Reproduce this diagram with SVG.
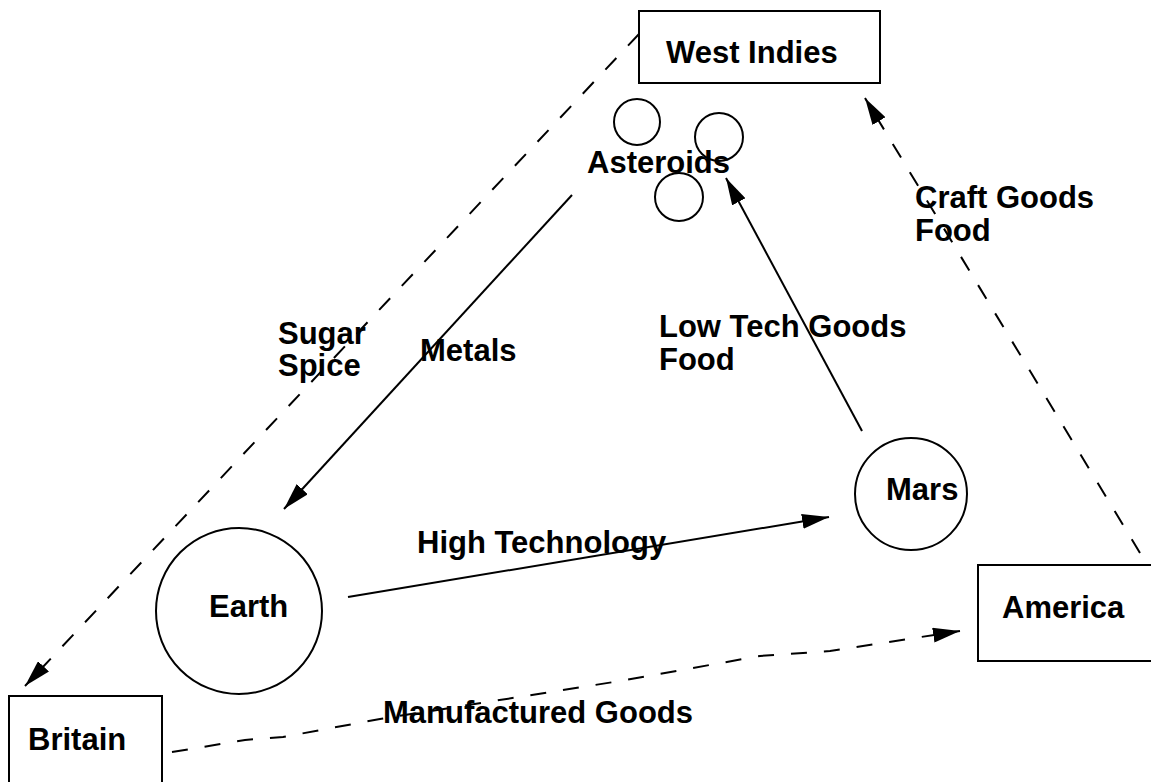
<svg xmlns="http://www.w3.org/2000/svg" width="1151" height="782" viewBox="0 0 1151 782">
<style>
text { font-family: "Liberation Sans", Arial, Helvetica, sans-serif; font-weight: bold; font-size: 31px; fill: #000; }
.shape { fill: #fff; stroke: #000; stroke-width: 2; }
.conn { fill: none; stroke: #000; stroke-width: 2; }
.dash { stroke-dasharray: 16 17; }
</style>
<defs>
<marker id="ah" markerUnits="userSpaceOnUse" viewBox="0 0 27 15" markerWidth="27" markerHeight="15" refX="27" refY="7.5" orient="auto">
<path d="M0,0 L27,7.5 L0,15 z" fill="#000" stroke="none"/>
</marker>
</defs>
<rect width="1151" height="782" fill="#fff"/>
<g id="nodes">
<g id="west-indies">
<rect class="shape" x="639" y="11" width="241" height="72"/>
<text x="666" y="63">West Indies</text>
</g>
<g id="asteroids">
<circle class="shape" cx="637" cy="122" r="23"/>
<circle class="shape" cx="719" cy="137" r="24"/>
<circle class="shape" cx="679" cy="197" r="24"/>
<text x="587" y="173">Asteroids</text>
</g>
<g id="earth">
<circle class="shape" cx="239" cy="611" r="83"/>
<text x="209" y="617">Earth</text>
</g>
<g id="mars">
<circle class="shape" cx="911" cy="494" r="56"/>
<text x="886" y="500">Mars</text>
</g>
<g id="britain">
<rect class="shape" x="9" y="696" width="153" height="100"/>
<text x="28" y="750">Britain</text>
</g>
<g id="america">
<rect class="shape" x="978" y="565" width="180" height="96"/>
<text x="1002" y="618">America</text>
</g>
</g>
<g id="connectors">
<line class="conn" x1="572" y1="195" x2="284" y2="509" marker-end="url(#ah)"/>
<line class="conn" x1="862" y1="431" x2="726" y2="178" marker-end="url(#ah)"/>
<line class="conn" x1="348" y1="597" x2="829" y2="517" marker-end="url(#ah)"/>
<line class="conn dash" x1="639" y1="34" x2="25" y2="686" marker-end="url(#ah)"/>
<line class="conn dash" x1="1140" y1="553" x2="865" y2="98" marker-end="url(#ah)"/>
<polyline class="conn dash" points="172,752 245,740 283,737 380,719 620,681 760,656 830,651 960,631" marker-end="url(#ah)"/>
</g>
<g id="labels">
<text x="278" y="344">Sugar</text>
<text x="278" y="376">Spice</text>
<text x="420" y="361">Metals</text>
<text x="659" y="337">Low Tech Goods</text>
<text x="659" y="370">Food</text>
<text x="915" y="208">Craft Goods</text>
<text x="915" y="241">Food</text>
<text x="417" y="553">High Technology</text>
<text x="383" y="723">Manufactured Goods</text>
</g>
</svg>
